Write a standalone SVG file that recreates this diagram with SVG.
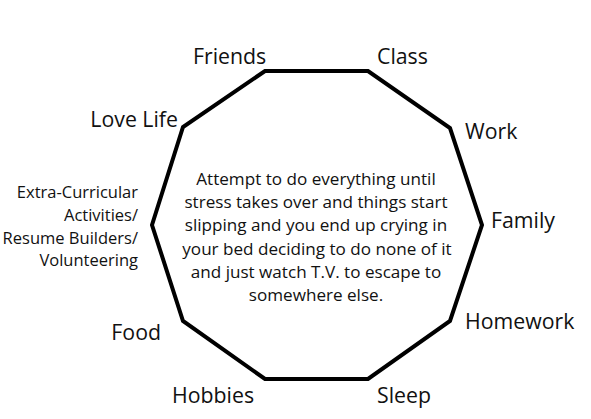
<svg xmlns="http://www.w3.org/2000/svg" width="591" height="419" viewBox="0 0 591 419">
<style>
.lbl{font-family:"Open Sans","Liberation Sans",sans-serif;font-size:21.3px;fill:#111}
.sm{font-family:"Open Sans","Liberation Sans",sans-serif;font-size:16.5px;fill:#111;text-anchor:end}
.ctr{font-family:"Open Sans","Liberation Sans",sans-serif;font-size:17.1px;fill:#111;text-anchor:middle}
</style>
<rect width="591" height="419" fill="#fff"/>
<g id="decagon">
<polygon points="265,71 368,71 450,128 482,225 450,321 368,379 265,379 183,321 152,225 183,127" fill="none" stroke="#000" stroke-width="4" stroke-linejoin="miter"/>
</g>
<g id="center-text">
<text class="ctr" y="185"><tspan x="316">Attempt to do everything until</tspan><tspan x="316" dy="23.2">stress takes over and things start</tspan><tspan x="316" dy="23.2">slipping and you end up crying in</tspan><tspan x="317" dy="23.2">your bed deciding to do none of it</tspan><tspan x="316" dy="23.2">and just watch T.V. to escape to</tspan><tspan x="316" dy="23.2">somewhere else.</tspan></text>
</g>
<g id="friends"><text class="lbl" x="193" y="64">Friends</text></g>
<g id="class"><text class="lbl" x="377" y="64">Class</text></g>
<g id="work"><text class="lbl" x="465" y="139">Work</text></g>
<g id="family"><text class="lbl" x="491" y="228">Family</text></g>
<g id="homework"><text class="lbl" x="465" y="329">Homework</text></g>
<g id="sleep"><text class="lbl" x="377" y="403">Sleep</text></g>
<g id="hobbies"><text class="lbl" x="172" y="403">Hobbies</text></g>
<g id="food"><text class="lbl" x="161" y="340" text-anchor="end">Food</text></g>
<g id="extra">
<text class="sm" y="198"><tspan x="138">Extra-Curricular</tspan><tspan x="138" dy="22.8">Activities/</tspan><tspan x="138" dy="22.8">Resume Builders/</tspan><tspan x="138" dy="22.8">Volunteering</tspan></text>
</g>
<g id="lovelife"><text class="lbl" x="178" y="127" text-anchor="end">Love Life</text></g>
</svg>
